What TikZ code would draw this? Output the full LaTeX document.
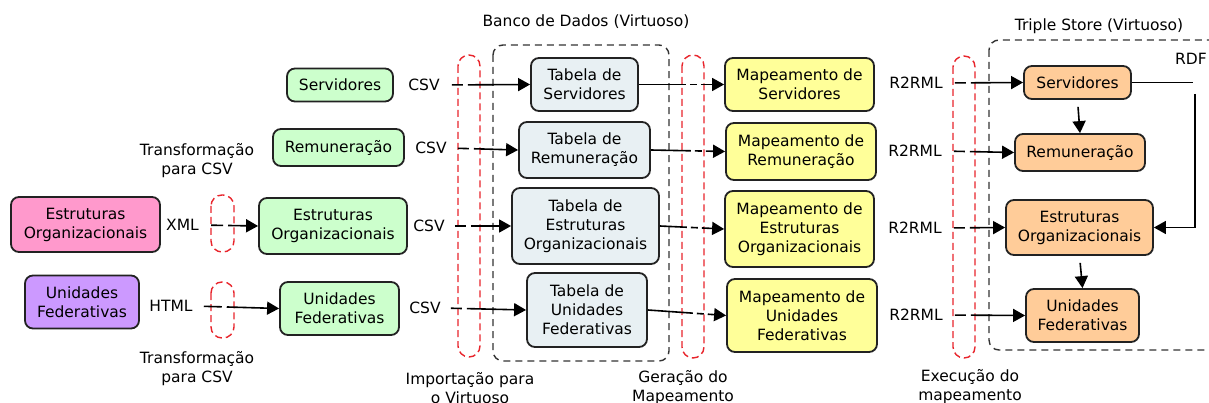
\documentclass[tikz,border=0pt]{standalone}
\usepackage{fontspec}
\setmainfont{DejaVu Sans}
\usetikzlibrary{arrows.meta}
\definecolor{cpink}{HTML}{FF99CC}
\definecolor{cpurple}{HTML}{CC99FF}
\definecolor{cgreen}{HTML}{CCFFCC}
\definecolor{ctable}{HTML}{E8F0F3}
\definecolor{cyellow}{HTML}{FFFF99}
\definecolor{corange}{HTML}{FFCC99}
\definecolor{cred}{HTML}{E8242B}
\definecolor{cline}{HTML}{222222}
\begin{document}
\begin{tikzpicture}[x=1pt,y=-1pt,font=\fontsize{15.5}{19}\selectfont,
  bx/.style n args={3}{draw=cline,line width=1.8pt,rounded corners=8pt,align=center,inner sep=0pt,fill=#1,minimum width=#2,minimum height=#3},
  lbl/.style={inner sep=0pt,align=center},
  arr/.style={draw=black,line width=1.6pt,-{Triangle[length=12pt,width=13pt]}},
  inarr/.style={arr,shorten <=#1,dash pattern=on 11pt off 5pt on 600pt},
  tmarr/.style={arr,dash pattern=on #1 off 4pt on 7pt off 4pt on 600pt},
  capsule/.style={draw=cred,line width=1.4pt,dash pattern=on 7pt off 4pt,rounded corners=11pt},
  group/.style={draw=black!80,line width=1.4pt,dash pattern=on 7pt off 5pt,rounded corners=10pt}]
\useasboundingbox (0,0) rectangle (1209,403);
\clip (0,0) rectangle (1209,403);

% group boxes and capsules
\draw[group] (493,45) rectangle (669,361);
\draw[group] (989,40) rectangle (1235,350);
\draw[capsule] (211,195) rectangle (234,252);
\draw[capsule] (211,282) rectangle (234,338);
\draw[capsule] (458,55) rectangle (480,357);
\draw[capsule] (682,55) rectangle (704,358);
\draw[capsule] (953,56) rectangle (975,358);

% titles
\node[lbl] (tBD) at (586,22) {Banco de Dados (Virtuoso)};
\node[lbl] (tTS) at (1099,26) {Triple Store (Virtuoso)};
\node[lbl] (tRDF) at (1191,59) {RDF};
\node[lbl] (tTr1) at (197,161) {Transformação\\para CSV};
\node[lbl] (tTr2) at (197,369) {Transformação\\para CSV};
\node[lbl] (tImp) at (470,388) {Importação para\\o Virtuoso};
\node[lbl] (tGer) at (683,388) {Geração do\\Mapeamento};
\node[lbl] (tExe) at (970,387) {Execução do\\mapeamento};

% source boxes
\node[bx={cpink}{149pt}{55pt}] (pEO) at (85.5,224.5) {Estruturas\\Organizacionais};
\node[bx={cpurple}{114pt}{53pt}] (pUF) at (82,302) {Unidades\\Federativas};
\node[lbl] (lXML) at (182.5,225) {XML};
\node[lbl] (lHTML) at (171,306) {HTML};

% green
\node[bx={cgreen}{106pt}{33pt}] (gS) at (340,85) {Servidores};
\node[bx={cgreen}{131pt}{37pt}] (gR) at (338.5,147.5) {Remuneração};
\node[bx={cgreen}{148pt}{56pt}] (gEO) at (333,226) {Estruturas\\Organizacionais};
\node[bx={cgreen}{119pt}{53pt}] (gUF) at (339.5,308.5) {Unidades\\Federativas};
\node[lbl] (c1) at (424,85) {CSV};
\node[lbl] (c2) at (431,148) {CSV};
\node[lbl] (c3) at (429,226) {CSV};
\node[lbl] (c4) at (425,308) {CSV};

% tables
\node[bx={ctable}{107pt}{53pt}] (t1) at (584.5,84.5) {Tabela de\\Servidores};
\node[bx={ctable}{131pt}{56pt}] (t2) at (584.5,150) {Tabela de\\Remuneração};
\node[bx={ctable}{147pt}{76pt}] (t3) at (585.5,226) {Tabela de\\Estruturas\\Organizacionais};
\node[bx={ctable}{120pt}{74pt}] (t4) at (587,310) {Tabela de\\Unidades\\Federativas};

% mappings
\node[bx={cyellow}{149pt}{53pt}] (m1) at (799.5,84.5) {Mapeamento de\\Servidores};
\node[bx={cyellow}{150pt}{57pt}] (m2) at (801,151.5) {Mapeamento de\\Remuneração};
\node[bx={cyellow}{149pt}{76pt}] (m3) at (799.5,229) {Mapeamento de\\Estruturas\\Organizacionais};
\node[bx={cyellow}{150pt}{73pt}] (m4) at (802,315.5) {Mapeamento de\\Unidades\\Federativas};
\node[lbl] (r1) at (916,83) {R2RML};
\node[lbl] (r2) at (915,151) {R2RML};
\node[lbl] (r3) at (915,228) {R2RML};
\node[lbl] (r4) at (916,315) {R2RML};

% orange
\node[bx={corange}{107pt}{33pt}] (o1) at (1077.5,82.5) {Servidores};
\node[bx={corange}{130pt}{37pt}] (o2) at (1080,152.5) {Remuneração};
\node[bx={corange}{147pt}{55pt}] (o3) at (1079.5,227.5) {Estruturas\\Organizacionais};
\node[bx={corange}{113pt}{53pt}] (o4) at (1082.5,315.5) {Unidades\\Federativas};

% connectors
\draw[arr,shorten <=12pt,dash pattern=on 12pt off 5pt on 600pt] (lXML.east) -- (gEO.west);
\draw[arr,shorten <=11pt,dash pattern=on 18pt off 5pt on 600pt] (lHTML.east) -- (gUF.west);

\draw[inarr=12pt] (c1.east) -- (t1.west);
\draw[inarr=11pt] (c2.east) -- (t2.west);
\draw[inarr=10pt] (c3.east) -- (t3.west);
\draw[inarr=10pt] (c4.east) -- (t4.west);

\draw[tmarr=47pt] (t1.east) -- (m1.west);
\draw[tmarr=40pt] (t2.east) -- (m2.west);
\draw[tmarr=27pt] (t3.east) -- (m3.west);
\draw[tmarr=45pt] (t4.east) -- (m4.west);

\draw[inarr=12pt] (r1.east) -- (o1.west);
\draw[inarr=12pt] (r2.east) -- (o2.west);
\draw[inarr=12pt] (r3.east) -- (o3.west);
\draw[inarr=12pt] (r4.east) -- (o4.west);

\draw[arr,shorten <=7pt] (o1.south) -- (o2.north);
\draw[arr,shorten <=7pt] (o3.south) -- (o4.north);

\coordinate (rdfA) at (1193,82.5);
\coordinate (rdfB) at (1195,94);
\draw[line width=1.6pt] (o1.east) -- (rdfA);
\draw[arr] (rdfB) |- (o3.east);
\end{tikzpicture}
\end{document}
